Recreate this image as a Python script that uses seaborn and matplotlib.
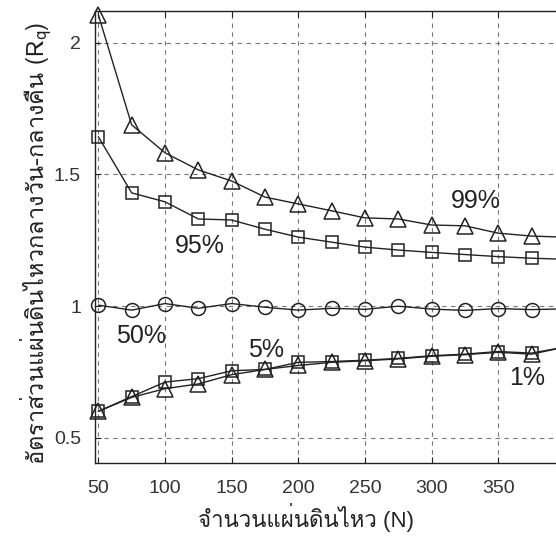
import matplotlib
matplotlib.use("Agg")
import matplotlib.pyplot as plt
from matplotlib import font_manager
from matplotlib.ft2font import FT2Font
import seaborn as sns

# values
N = [50, 75, 100, 125, 150, 175, 200, 225, 250, 275, 300, 325, 350, 375, 400]
p99 = [2.106, 1.688, 1.582, 1.517, 1.475, 1.414, 1.388, 1.362, 1.335, 1.331, 1.308, 1.305, 1.277, 1.266, 1.262]
p95 = [1.643, 1.430, 1.396, 1.331, 1.327, 1.292, 1.262, 1.243, 1.224, 1.213, 1.204, 1.196, 1.188, 1.182, 1.178]
p50 = [1.004, 0.985, 1.010, 0.992, 1.010, 0.996, 0.985, 0.992, 0.988, 1.000, 0.989, 0.984, 0.991, 0.987, 0.990]
p05 = [0.601, 0.657, 0.712, 0.725, 0.755, 0.760, 0.787, 0.790, 0.795, 0.802, 0.812, 0.818, 0.828, 0.822, 0.845]
p01 = [0.601, 0.654, 0.687, 0.705, 0.740, 0.760, 0.775, 0.787, 0.793, 0.800, 0.810, 0.816, 0.825, 0.818, 0.845]

series = [(p99, "^", 12), (p95, "s", 9), (p50, "o", 10), (p05, "s", 9), (p01, "^", 12)]
labels = ["99%", "95%", "50%", "5%", "1%"]
label_pos = [(333, 1.40), (126, 1.228), (82, 0.886), (176, 0.833), (372, 0.726)]

xticks = [50, 100, 150, 200, 250, 300, 350]
yticks = [0.5, 1, 1.5, 2]
ytick_labels = ["0.5", "1", "1.5", "2"]

xlabel = "จำนวนแผ่นดินไหว (N)"
ylabel = "อัตราส่วนแผ่นดินไหวกลางวัน-กลางคืน (R$_q$)"


# find an installed font that can draw Thai
def thai_font():
    for f in font_manager.fontManager.ttflist:
        try:
            if 0x0E08 in FT2Font(f.fname).get_charmap():
                return f.name
        except Exception:
            pass
    return None


sns.set_style("white")
fam = thai_font() or 'DejaVu Sans'
plt.rcParams['font.family'] = ['Liberation Sans', fam, 'DejaVu Sans']
# mathtext does not fall back between families, so the y label (Thai + R_q)
# is set entirely in the Thai-capable font
plt.rcParams['mathtext.fontset'] = 'custom'
plt.rcParams['mathtext.rm'] = fam
plt.rcParams['mathtext.it'] = fam

fig = plt.figure(figsize=(5.56, 5.40), dpi=100)
ax = fig.add_axes([95 / 556, 1 - 463 / 540, 476.6 / 556, 452 / 540])

ink = "#222222"
for vals, mk, ms in series:
    sns.lineplot(x=N, y=vals, ax=ax, color=ink, linewidth=1.0, marker=mk, markersize=ms,
                 markerfacecolor="none", markeredgecolor=ink, markeredgewidth=1.1,
                 clip_on=False, zorder=3)

for txt, (x, y) in zip(labels, label_pos):
    ax.text(x, y, txt, fontsize=18, color=ink, ha="center", va="center")

ax.set_xlim(47.5, 405)
ax.set_ylim(0.405, 2.12)
ax.set_xticks(xticks)
ax.set_xticklabels([str(t) for t in xticks])
ax.set_yticks(yticks)
ax.set_yticklabels(ytick_labels)
ax.grid(True, color="#777777", linestyle=(0, (4, 4)), linewidth=0.8)
ax.tick_params(direction="in", length=4, color=ink, labelsize=14, labelcolor="#333333",
               top=True, left=True, bottom=True)
ax.tick_params(axis="x", pad=12)
ax.tick_params(axis="y", pad=10)
for s in ax.spines.values():
    s.set_color(ink)
    s.set_linewidth(1.0)

ax.set_xlabel(xlabel, fontsize=16, color=ink)
ax.set_ylabel(ylabel, fontsize=17, color=ink, family=fam)
ax.xaxis.set_label_coords((306 - 95) / 476.6, -0.088)
ax.yaxis.set_label_coords(-0.084, 0.487)

fig.savefig("out.png", dpi=100)
